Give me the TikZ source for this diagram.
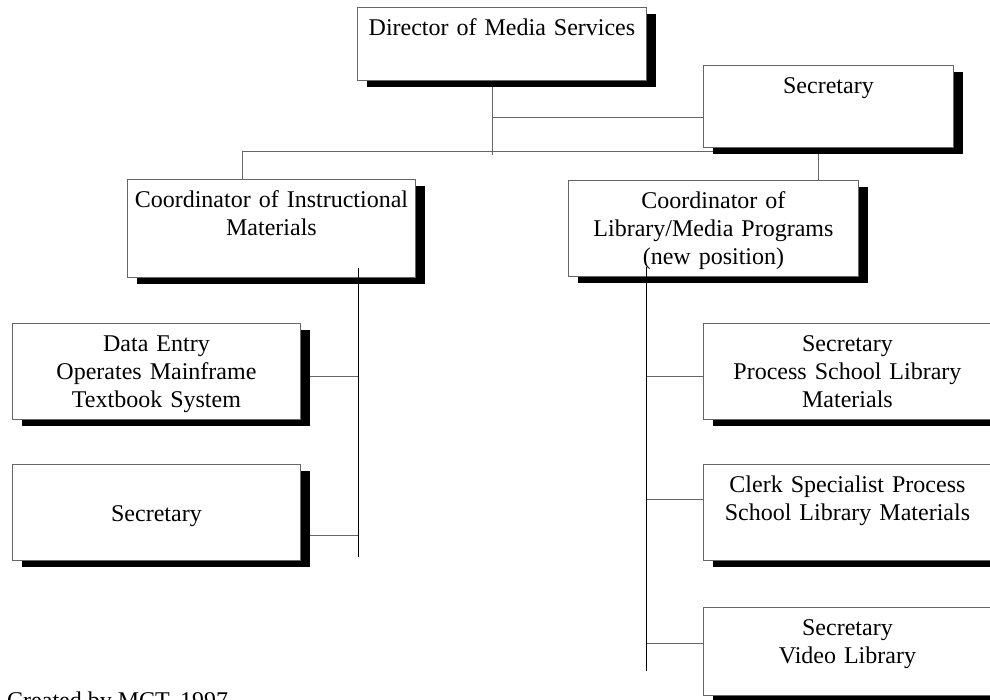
\documentclass[tikz,border=0pt]{standalone}
\usepackage{fontspec}
\setmainfont{Liberation Serif}
\usepackage{tikz}
\usetikzlibrary{shadows,backgrounds}

\definecolor{rulegray}{gray}{0.4}

\begin{document}
\begin{tikzpicture}[x=1pt, y=-1pt,
        post/.style = {draw=rulegray, line width=0.9pt, fill=white,
            drop shadow={shadow xshift=10pt, shadow yshift=-7pt, fill=black, opacity=1},
            anchor=north west, inner sep=0pt, align=center,
            font={\fontsize{24}{28}\selectfont}, text height=28pt},
        wire/.style = {draw=rulegray, line width=0.9pt}]
        \useasboundingbox (0,0) rectangle (990,700);

        % boxes
        \node[post, text width=289pt, text depth=45pt] (dir) at (357,7) {Director of Media Services};
        \node[post, text width=250pt, text depth=54pt] (sec) at (703,65) {Secretary};
        \node[post, text width=288pt, text depth=70pt] (ci) at (127,179) {Coordinator of Instructional\\Materials};
        \node[post, text width=290pt, text depth=68pt] (cl) at (568,180) {Coordinator of\\Library/Media Programs\\(new position)};
        \node[post, text width=288pt, text depth=68pt] (de) at (12,323) {Data Entry\\Operates Mainframe\\Textbook System};
        \node[post, text width=288pt, text height=57pt, text depth=39pt] (sl) at (12,464) {Secretary};
        \node[post, text width=288pt, text depth=68pt] (psl) at (703,323) {Secretary\\Process School Library\\Materials};
        \node[post, text width=288pt, text depth=68pt] (clerk) at (703,464) {Clerk Specialist Process\\School Library Materials};
        \node[post, text width=288pt, text depth=60pt] (video) at (703,607) {Secretary\\Video Library};

        \node[anchor=base west, inner sep=0pt, font={\fontsize{24}{28}\selectfont}] (credit) at (7,708) {Created by MCT, 1997};

        % junction points
        \coordinate (ds) at (492,155);
        \coordinate (dt) at (492,117);
        \coordinate (bl) at (242,151);
        \coordinate (br) at (818,151);
        \coordinate (ltop) at (358,268);
        \coordinate (lbot) at (358,557);
        \coordinate (tap1) at (358,376);
        \coordinate (tap2) at (358,535);
        \coordinate (rtop) at (646,267);
        \coordinate (rbot) at (646,671);
        \coordinate (tap3) at (646,376);
        \coordinate (tap4) at (646,499);
        \coordinate (tap5) at (646,643);

        \begin{scope}[on background layer]
            \draw[wire] (dir.south -| ds) -- (ds);
            \draw[wire] (dt) -- (dt -| sec.west);
            \draw[wire] (ci.north -| bl) -- (bl) -- (br) -- (cl.north -| br);
            \draw[wire] (tap1) -- (tap1 -| de.east);
            \draw[wire] (tap2) -- (tap2 -| sl.east);
            \draw[wire] (tap3) -- (tap3 -| psl.west);
            \draw[wire] (tap4) -- (tap4 -| clerk.west);
            \draw[wire] (tap5) -- (tap5 -| video.west);
        \end{scope}

        \draw[wire, draw=black] (ltop) -- (lbot);
        \draw[wire, draw=black] (rtop) -- (rbot);
\end{tikzpicture}
\end{document}
